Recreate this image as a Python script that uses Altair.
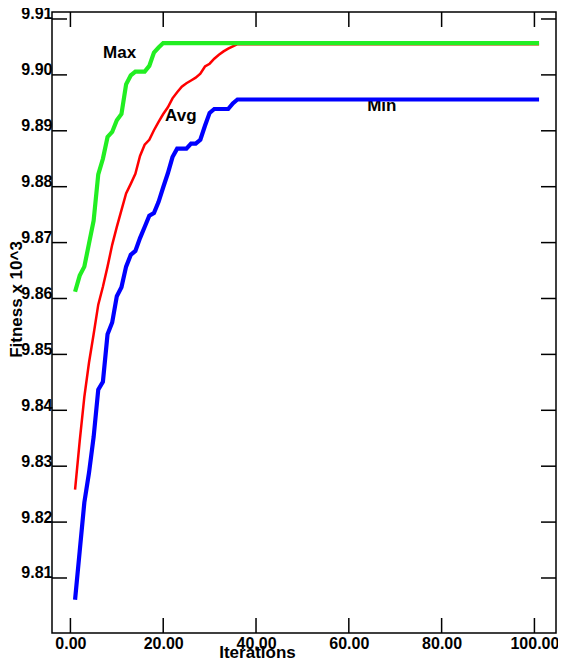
import altair as alt
import pandas as pd

# ---- data ----
iter_max = list(range(1, 21)) + [101]
fit_max = [9.8612, 9.8641, 9.8657, 9.8698, 9.8739, 9.8822, 9.8850, 9.8889, 9.8898, 9.8919,
           9.8930, 9.8983, 9.8999, 9.9006, 9.9006, 9.9006, 9.9016, 9.9040, 9.9049, 9.9057,
           9.9057]

iter_avg = list(range(1, 37)) + [101]
fit_avg = [9.8258, 9.8345, 9.8424, 9.8485, 9.8536, 9.8589, 9.8621, 9.8657, 9.8696, 9.8728,
           9.8758, 9.8788, 9.8805, 9.8823, 9.8855, 9.8875, 9.8884, 9.8901, 9.8916, 9.8930,
           9.8942, 9.8958, 9.8969, 9.8979, 9.8985, 9.8990, 9.8995, 9.9002, 9.9015, 9.9020,
           9.9029, 9.9036, 9.9042, 9.9047, 9.9051, 9.9055, 9.9055]

iter_min = list(range(1, 37)) + [101]
fit_min = [9.8061, 9.8148, 9.8235, 9.8288, 9.8352, 9.8437, 9.8451, 9.8536, 9.8557, 9.8604,
           9.8620, 9.8657, 9.8678, 9.8685, 9.8708, 9.8728, 9.8748, 9.8753, 9.8773, 9.8799,
           9.8824, 9.8853, 9.8868, 9.8868, 9.8868, 9.8877, 9.8877, 9.8884, 9.8909, 9.8932,
           9.8939, 9.8939, 9.8939, 9.8939, 9.8949, 9.8956, 9.8956]

label_text = ["Max", "Avg", "Min"]
label_x = [10.6, 23.8, 67.1]
label_y = [9.9030, 9.8918, 9.8936]

x_ticks = [0, 20, 40, 60, 80, 100]
y_ticks = [9.81, 9.82, 9.83, 9.84, 9.85, 9.86, 9.87, 9.88, 9.89, 9.90, 9.91]

# ---- layout ----
W, H = 504, 621
FONT = "Liberation Sans"
TL = 15  # inward tick length

xscale = alt.Scale(domain=[-3.97, 104.65], nice=False, zero=False)
yscale = alt.Scale(domain=[9.80016, 9.91125], nice=False, zero=False)

xaxis = alt.Axis(values=x_ticks, format=".2f", ticks=False, domain=False, grid=False,
                 labelFont=FONT, labelFontSize=16, labelFontWeight="bold", labelColor="black",
                 labelPadding=2, labelFlush=False, labelOverlap=False,
                 title="Iterations", titleFont=FONT, titleFontSize=17, titleFontWeight="bold",
                 titleColor="black", titleX=205, titleY=24, titleBaseline="alphabetic",
                 titleAlign="center")
yaxis = alt.Axis(values=y_ticks, format=".2f", ticks=False, domain=False, grid=False,
                 labelFont=FONT, labelFontSize=16, labelFontWeight="bold", labelColor="black",
                 labelPadding=0, labelBaseline="alphabetic", labelAlign="right",
                 labelFlush=False, labelOverlap=False,
                 title="Fitness x 10^3", titleFont=FONT, titleFontSize=17, titleFontWeight="bold",
                 titleColor="black", titleX=-31, titleY=287, titleAngle=270,
                 titleBaseline="alphabetic", titleAlign="center")

df_max = pd.DataFrame({"it": iter_max, "fit": fit_max})
df_avg = pd.DataFrame({"it": iter_avg, "fit": fit_avg})
df_min = pd.DataFrame({"it": iter_min, "fit": fit_min})
df_lab = pd.DataFrame({"x": label_x, "y": label_y, "t": label_text})
df_xt = pd.DataFrame({"v": x_ticks})
df_yt = pd.DataFrame({"v": y_ticks})

text = alt.Chart(df_lab).mark_text(font=FONT, fontSize=17, fontWeight="bold", color="black",
                                   baseline="alphabetic", align="center").encode(
    x=alt.X("x:Q", scale=xscale, axis=xaxis),
    y=alt.Y("y:Q", scale=yscale, axis=yaxis),
    text="t:N")

def line(df, color, width):
    return alt.Chart(df).mark_line(color=color, strokeWidth=width, clip=True).encode(
        x=alt.X("it:Q", scale=xscale),
        y=alt.Y("fit:Q", scale=yscale))

l_avg = line(df_avg, "#ff0000", 2.5)
l_min = line(df_min, "#0000ff", 4.2)
l_max = line(df_max, "#22ee22", 4.2)

tick_top = alt.Chart(df_xt).mark_rule(color="black", strokeWidth=1.5).encode(
    x=alt.X("v:Q", scale=xscale), y=alt.value(0), y2=alt.value(TL))
tick_bot = alt.Chart(df_xt).mark_rule(color="black", strokeWidth=1.5).encode(
    x=alt.X("v:Q", scale=xscale), y=alt.value(H - TL), y2=alt.value(H))
tick_left = alt.Chart(df_yt).mark_rule(color="black", strokeWidth=1.5).encode(
    y=alt.Y("v:Q", scale=yscale), x=alt.value(0), x2=alt.value(TL))
tick_right = alt.Chart(df_yt).mark_rule(color="black", strokeWidth=1.5).encode(
    y=alt.Y("v:Q", scale=yscale), x=alt.value(W - TL), x2=alt.value(W))

chart = alt.layer(text, l_avg, l_min, l_max, tick_top, tick_bot, tick_left, tick_right).properties(
    width=W, height=H,
    autosize=alt.AutoSizeParams(type="none"),
    padding={"left": 44, "top": 4, "right": 2, "bottom": 26},
    background="white",
).configure_view(stroke="black", strokeWidth=1.5)

chart.save("out.html", embed_options={"renderer": "svg", "actions": False})
